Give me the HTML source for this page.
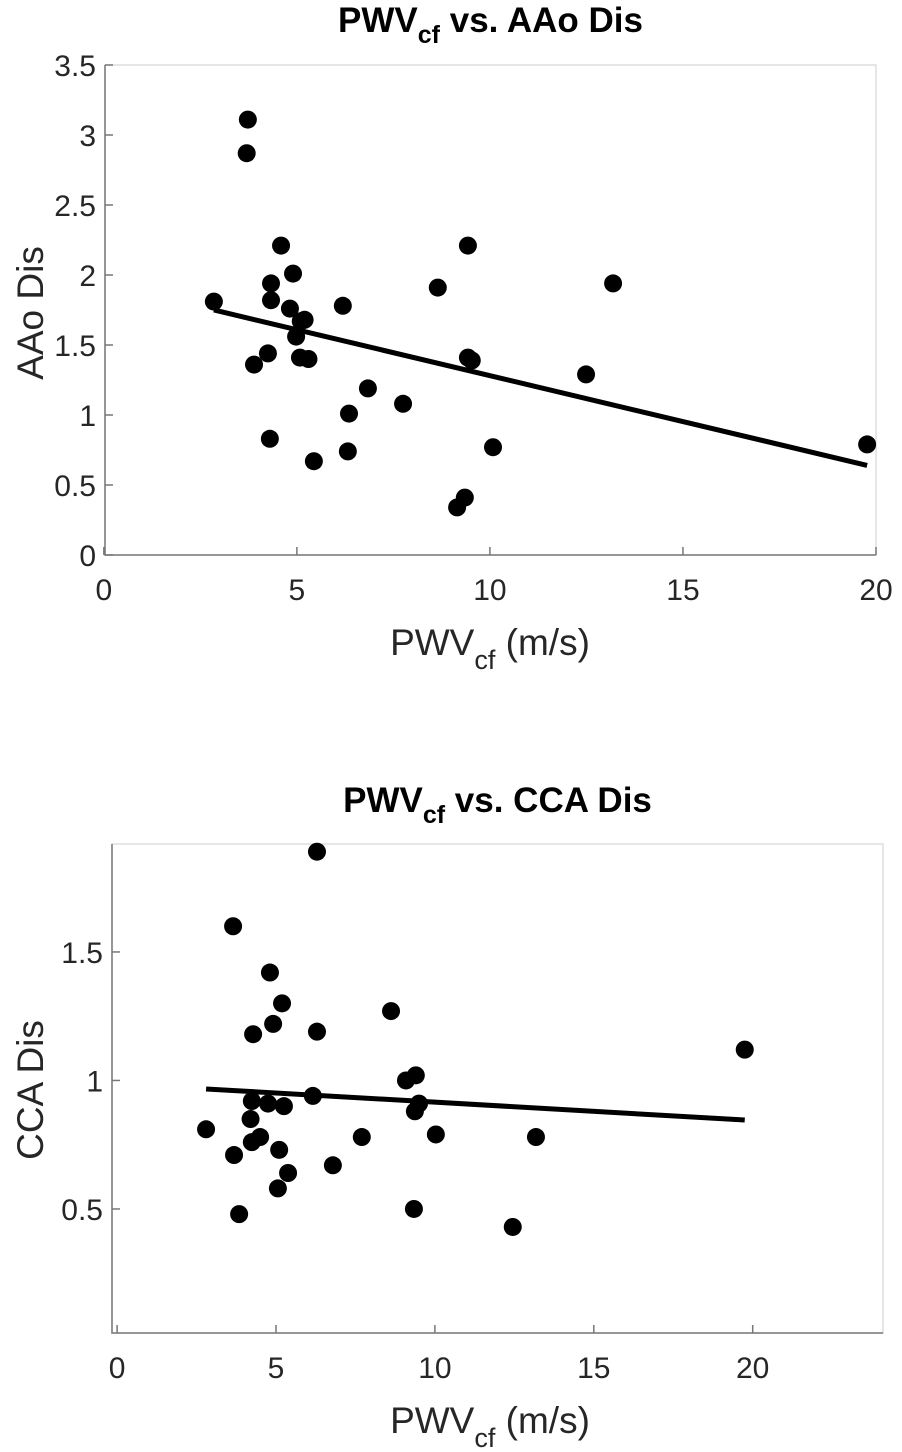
<!DOCTYPE html>
<html><head><meta charset="utf-8"><style>
body{margin:0;background:#fff;}
svg{display:block;font-family:"Liberation Sans",Arial,sans-serif;}
</style></head><body>
<svg id="c" width="902" height="1452"></svg>
<script>
const topX=[3.73,3.70,4.59,4.9,4.33,4.33,4.82,5.2,5.1,4.98,5.08,5.3,4.25,3.89,6.19,4.3,5.44,6.35,6.32,6.84,7.75,8.65,9.43,9.43,9.53,9.35,9.15,10.08,12.49,13.19,19.77,2.85];
const topY=[3.11,2.87,2.21,2.01,1.94,1.82,1.76,1.68,1.67,1.56,1.41,1.40,1.44,1.36,1.78,0.83,0.67,1.01,0.74,1.19,1.08,1.91,2.21,1.41,1.39,0.41,0.34,0.77,1.29,1.94,0.79,1.81];
const topFit=[1.937,-0.0656];
const topXTicks=[0,5,10,15,20];
const topYTicks=[0,0.5,1,1.5,2,2.5,3,3.5];
const botX=[6.29,3.65,4.81,5.19,4.91,4.28,6.29,8.62,9.09,9.4,9.5,9.37,6.16,4.24,4.75,5.25,4.2,2.8,4.24,4.5,5.1,3.68,5.38,6.79,5.06,3.84,7.7,10.03,9.34,12.45,13.18,19.75];
const botY=[1.89,1.60,1.42,1.30,1.22,1.18,1.19,1.27,1.00,1.02,0.91,0.88,0.94,0.92,0.91,0.90,0.85,0.81,0.76,0.78,0.73,0.71,0.64,0.67,0.58,0.48,0.78,0.79,0.50,0.43,0.78,1.12];
const botFit=[0.987,-0.00714];
const botXTicks=[0,5,10,15,20];
const botYTicks=[0.5,1,1.5];
const NS="http://www.w3.org/2000/svg";
const svg=document.getElementById('c');
function mk(t,a,txt){const e=document.createElementNS(NS,t);for(const k in a)e.setAttribute(k,a[k]);if(txt!==undefined)e.innerHTML=txt;svg.appendChild(e);return e;}
function chart(o){
  const sx=v=>o.L+(v-o.x0)/(o.x1-o.x0)*(o.R-o.L);
  const sy=v=>o.B-(v-o.y0)/(o.y1-o.y0)*(o.B-o.T);
  let e=mk('rect',{x:o.L,y:o.T,width:o.R-o.L,height:o.B-o.T,fill:'none',stroke:'#d8d8d8','stroke-width':1.3});
  
  
  e=mk('path',{d:`M${o.L},${o.T}V${o.B}H${o.R}`,fill:'none',stroke:'#777','stroke-width':1.5});
  
  
  o.xt.forEach(v=>{const x=sx(v);
    mk('line',{x1:x,x2:x,y1:o.B,y2:o.B-8,stroke:'#777','stroke-width':1.5});
    e=mk('text',{x:x,y:o.B+45,'text-anchor':'middle','font-size':30,fill:'#262626'},v);
    
    });
  o.yt.forEach(v=>{const y=sy(v);
    mk('line',{x1:o.L,x2:o.L+8,y1:y,y2:y,stroke:'#777','stroke-width':1.5});
    e=mk('text',{x:o.L-9,y:y+11,'text-anchor':'end','font-size':30,fill:'#262626'},v);
    
    });
  const xa=Math.min(...o.xs),xb=Math.max(...o.xs);
  e=mk('line',{x1:sx(xa),y1:sy(o.fit[0]+o.fit[1]*xa),x2:sx(xb),y2:sy(o.fit[0]+o.fit[1]*xb),stroke:'#000','stroke-width':5});
  
  
  o.xs.forEach((v,i)=>{e=mk('circle',{cx:sx(v),cy:sy(o.ys[i]),r:9,fill:'#000'});
    
    });
  const cx=(o.L+o.R)/2;
  e=mk('text',{x:cx,y:o.ty,'text-anchor':'middle','font-size':35,'font-weight':'bold',fill:'#000'},'PWV<tspan font-size="25" dy="11">cf</tspan><tspan dy="-11"> vs. '+o.title+'</tspan>');
  
  
  e=mk('text',{x:o.xlx,y:o.B+100,'text-anchor':'middle','font-size':37,fill:'#262626'},'PWV<tspan font-size="27" dy="14">cf</tspan><tspan dy="-14"> (m/s)</tspan>');
  
  
  e=mk('text',{x:0,y:0,'text-anchor':'middle','font-size':37,fill:'#262626',transform:`translate(${o.ylx},${o.yly}) rotate(-90)`},o.ylab);
  
  
}
chart({p:'aao',L:105,R:876,T:65,B:555,x0:0.03,x1:20,y0:0,y1:3.5,xt:topXTicks,yt:topYTicks,xs:topX,ys:topY,fit:topFit,title:'AAo Dis',ty:32,ylab:'AAo Dis',ylx:43,yly:313,xlx:490});
chart({p:'cca',L:112,R:883,T:844,B:1333,x0:-0.16,x1:24.1,y0:0.0175,y1:1.92,xt:botXTicks,yt:botYTicks,xs:botX,ys:botY,fit:botFit,title:'CCA Dis',ty:812,ylab:'CCA Dis',ylx:43,yly:1090,xlx:490});
</script>
</body></html>
